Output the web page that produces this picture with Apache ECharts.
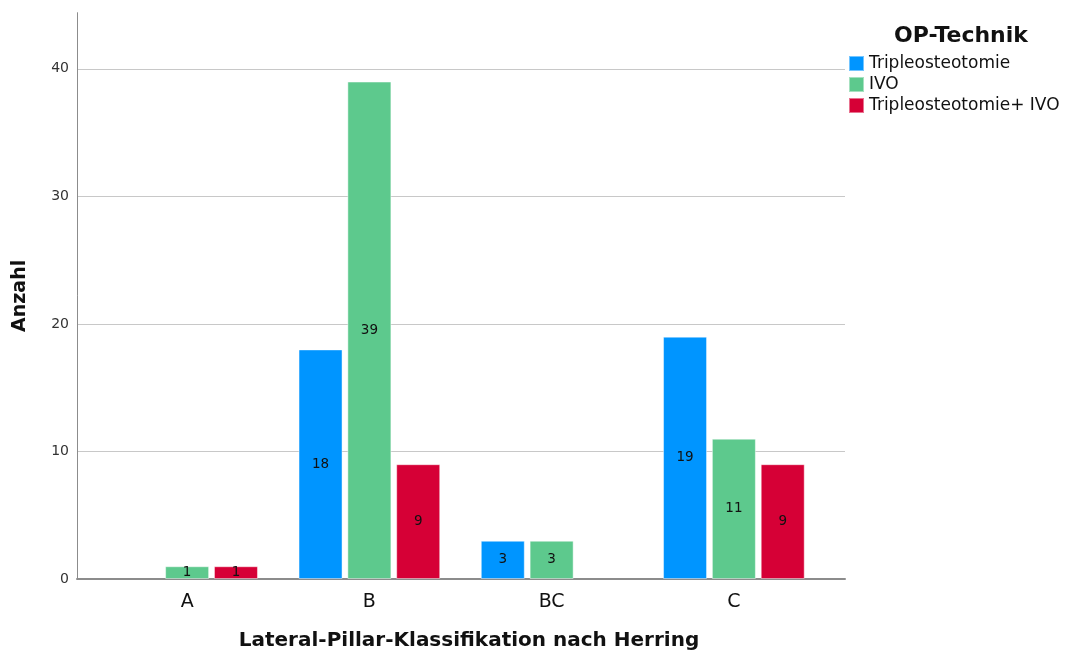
<!DOCTYPE html>
<html>
<head>
<meta charset="utf-8">
<script src="https://cdn.jsdelivr.net/npm/echarts@6/dist/echarts.min.js"></script>
<style>
  * { margin: 0; padding: 0; }
  body { background: #fff; }
  #chart { width: 1068px; height: 653px; }
</style>
</head>
<body>
<div id="chart"></div>
<script>
// Lateral-Pillar-Klassifikation x OP-Technik
var categories = ['A', 'B', 'BC', 'C'];
var seriesNames = ['Tripleosteotomie', 'IVO', 'Tripleosteotomie+ IVO'];
var triple = [0, 18, 3, 19];
var ivo = [1, 39, 3, 11];
var tripleIvo = [1, 9, 0, 9];

var colors = ['#0095ff', '#5dc98d', '#d60036'];
var font = 'DejaVu Sans';

function makeSeries(name, data, color) {
  return {
    name: name,
    type: 'bar',
    xAxisIndex: 0,
    yAxisIndex: 0,
    barWidth: 44,
    barGap: '11%',
    // empty cells are not drawn at all
    data: data.map(function (v) { return v === 0 ? '-' : v; }),
    itemStyle: { color: color, borderColor: 'rgba(255,255,255,0.45)', borderWidth: 1 },
    label: {
      show: true,
      position: 'inside',
      color: '#111',
      fontFamily: font,
      fontSize: 13.5
    }
  };
}

var chart = echarts.init(document.getElementById('chart'));
chart.setOption({
  animation: false,
  color: colors,
  title: [
    {
      text: 'Lateral-Pillar-Klassifikation nach Herring',
      left: 464, top: 626, textAlign: 'center',
      textStyle: { fontFamily: font, fontSize: 20, fontWeight: 'bold', color: '#111' }
    },
    {
      text: 'OP-Technik',
      left: 956, top: 20, textAlign: 'center',
      textStyle: { fontFamily: font, fontSize: 22, fontWeight: 'bold', color: '#111' }
    }
  ],
  legend: {
    data: seriesNames,
    orient: 'vertical',
    left: 848, top: 55, padding: 0,
    icon: 'rect',
    itemWidth: 15, itemHeight: 15, itemGap: 4,
    textStyle: { fontFamily: font, fontSize: 17, lineHeight: 15, color: '#111' }
  },
  grid: [
    { left: 96, right: 243, top: 12.7, bottom: 74 },
    { left: 77, right: 223, top: 12.7, bottom: 74 }
  ],
  xAxis: [
    {
      type: 'category', gridIndex: 0, data: categories,
      axisLine: { show: false }, axisTick: { show: false },
      axisLabel: { fontFamily: font, fontSize: 19, color: '#111', margin: 14 }
    },
    {
      type: 'category', gridIndex: 1, data: categories,
      axisLine: { lineStyle: { color: '#8c8c8c', width: 2 } },
      axisTick: { show: false }, axisLabel: { show: false }
    }
  ],
  yAxis: [
    {
      type: 'value', gridIndex: 0, min: 0, max: 44.4, interval: 10,
      show: false, splitLine: { show: false }
    },
    {
      type: 'value', gridIndex: 1, min: 0, max: 44.4, interval: 10,
      name: 'Anzahl', nameLocation: 'middle', nameRotate: 90, nameGap: 47,
      nameTextStyle: { fontFamily: font, fontSize: 19, fontWeight: 'bold', color: '#111' },
      axisLine: { show: true, lineStyle: { color: '#8c8c8c', width: 1 } },
      axisTick: { show: false },
      axisLabel: {
        fontFamily: font, fontSize: 14, color: '#333', margin: 8,
        showMaxLabel: false
      },
      splitLine: { showMaxLine: false, lineStyle: { color: '#c8c8c8', width: 1 } }
    }
  ],
  series: [
    makeSeries(seriesNames[0], triple, colors[0]),
    makeSeries(seriesNames[1], ivo, colors[1]),
    makeSeries(seriesNames[2], tripleIvo, colors[2])
  ]
});
</script>
</body>
</html>
